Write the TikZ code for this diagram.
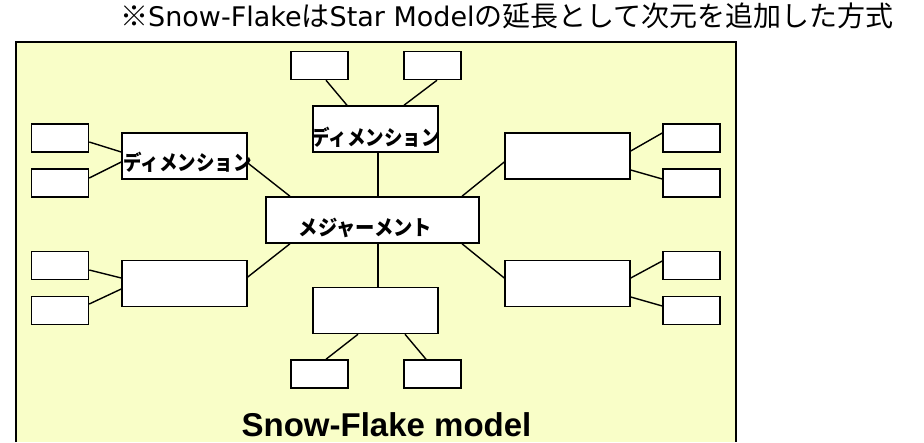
\documentclass[tikz,border=0pt]{standalone}
\usepackage{fontspec}
\usepackage{graphicx}
\newfontfamily\jp{Noto Sans CJK JP}
\newfontfamily\latn{DejaVu Sans}
\newfontfamily\capt{Liberation Sans}
\definecolor{paleyellow}{RGB}{249,254,200}
\tikzset{
  smallbox/.style={draw=black, line width=1.5pt, fill=white, minimum width=57pt, minimum height=28pt, inner sep=0pt},
  dimbox/.style={draw=black, line width=1.5pt, fill=white, minimum width=125pt, minimum height=46pt, inner sep=0pt},
  factbox/.style={draw=black, line width=1.5pt, fill=white, minimum width=213pt, minimum height=46pt, inner sep=0pt},
  link/.style={draw=black, line width=1.4pt},
  boxlabel/.style={inner sep=0pt, font=\jp\bfseries\fontsize{21}{23}\selectfont},
}
\begin{document}
\begin{tikzpicture}[x=1pt, y=-1pt]
  \useasboundingbox (0,0) rectangle (924,442);
  \fill[white] (0,0) rectangle (924,442);

  % title
  \node[anchor=base west, inner sep=0pt] (title) at (120,26)
    {{\jp\fontsize{28}{30}\selectfont ※}{\latn\fontsize{27}{30}\selectfont Snow-Flake}{\jp\fontsize{28}{30}\selectfont は}{\latn\fontsize{27}{30}\selectfont Star Model}{\jp\fontsize{28}{30}\selectfont の延長として次元を追加した方式}};

  % model frame (open at the bottom)
  \fill[paleyellow] (16,42) rectangle (736,442);
  \draw[line width=2pt] (16,442) -- (16,42) -- (736,42) -- (736,442);

  % fact table
  \node[factbox] (meas) at (372.5,220) {};
  \node[boxlabel] (measlbl) at (365.5,228) {\scalebox{0.92}[1]{メジャーメント}};

  % dimension tables
  \node[dimbox] (dT)  at (375.5,129) {};
  \node[dimbox] (dL)  at (184.5,156) {};
  \node[dimbox] (dR)  at (567.5,156) {};
  \node[dimbox] (dLL) at (184.5,283.5) {};
  \node[dimbox] (dLR) at (567.5,283.5) {};
  \node[dimbox] (dB)  at (375.5,310.5) {};
  \node[boxlabel] (dTlbl) at (375.5,137) {\scalebox{0.88}[1]{ディメンション}};
  \node[boxlabel] (dLlbl) at (187.5,162) {\scalebox{0.88}[1]{ディメンション}};

  % sub-dimension tables
  \node[smallbox] (tL) at (319.5,65.5) {};
  \node[smallbox] (tR) at (432.5,65.5) {};
  \node[smallbox] (L1) at (60,138) {};
  \node[smallbox] (L2) at (60,183) {};
  \node[smallbox] (L3) at (60,265.5) {};
  \node[smallbox] (L4) at (60,310.5) {};
  \node[smallbox] (R1) at (691.5,138) {};
  \node[smallbox] (R2) at (691.5,183) {};
  \node[smallbox] (R3) at (691.5,265.5) {};
  \node[smallbox] (R4) at (691.5,310.5) {};
  \node[smallbox] (bL) at (319.5,374) {};
  \node[smallbox] (bR) at (432.5,374) {};

  % fact to dimensions
  \draw[link] ([xshift=2.5]dT.south) -- ([xshift=5.5]meas.north);
  \draw[link] ([xshift=5.5]meas.south) -- ([xshift=2.5]dB.north);
  \draw[link] ([yshift=-7]dL.east) -- ([xshift=-82.5]meas.north);
  \draw[link] ([yshift=-6]dR.west) -- ([xshift=89.5]meas.north);
  \draw[link] ([yshift=6.5]dLL.east) -- ([xshift=-82.5]meas.south);
  \draw[link] ([yshift=5.5]dLR.west) -- ([xshift=89.5]meas.south);

  % dimensions to sub-dimensions
  \draw[link] ([xshift=6.5]tL.south) -- ([xshift=-28.5]dT.north);
  \draw[link] ([xshift=4.5]tR.south) -- ([xshift=28.5]dT.north);
  \draw[link] ([xshift=-17.5]dB.south) -- ([xshift=6.5]bL.north);
  \draw[link] ([xshift=29.5]dB.south) -- ([xshift=-6.5]bR.north);
  \draw[link] ([yshift=-4]L1.east) -- ([yshift=4]dL.west);
  \draw[link] ([yshift=5]L2.east) -- ([yshift=-6]dL.west);
  \draw[link] ([yshift=-4.5]L3.east) -- ([yshift=5.5]dLL.west);
  \draw[link] ([yshift=6.5]L4.east) -- ([yshift=-5.5]dLL.west);
  \draw[link] ([yshift=5]R1.west) -- ([yshift=5]dR.east);
  \draw[link] ([yshift=4]R2.west) -- ([yshift=-14]dR.east);
  \draw[link] ([yshift=4.5]R3.west) -- ([yshift=5.5]dLR.east);
  \draw[link] ([yshift=4.5]R4.west) -- ([yshift=-13.5]dLR.east);

  % caption
  \node[anchor=base, inner sep=0pt, font=\capt\bfseries\fontsize{33}{36}\selectfont] (caption) at (386.5,436) {Snow-Flake model};
\end{tikzpicture}
\end{document}
